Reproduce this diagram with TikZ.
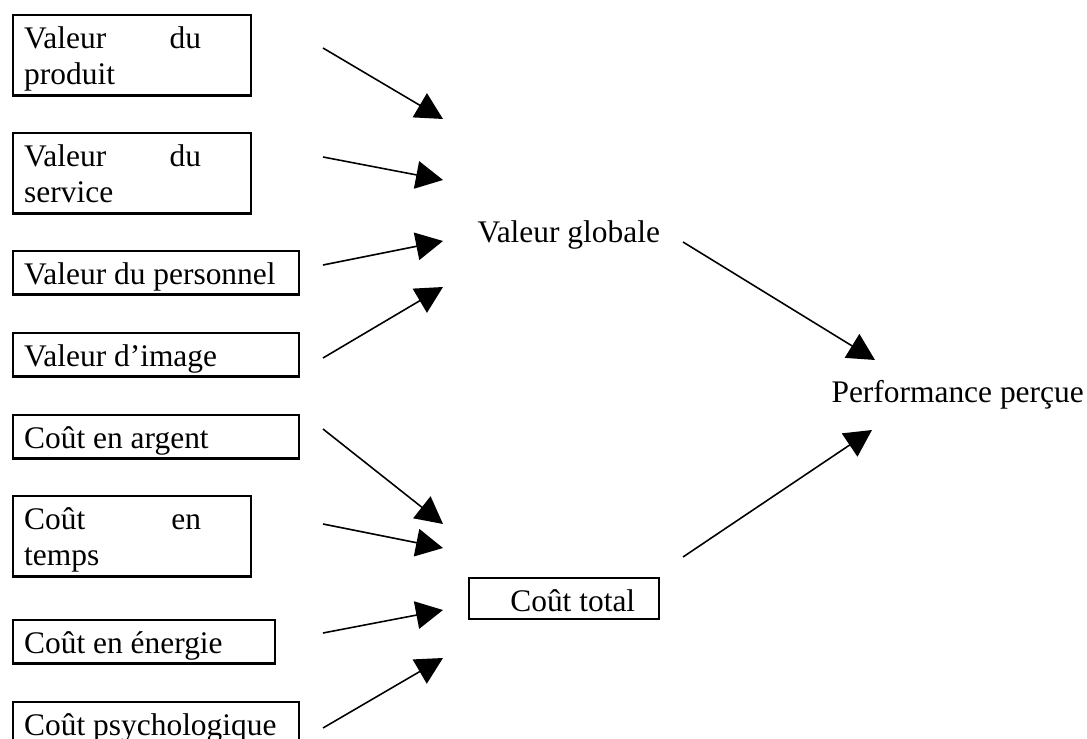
\documentclass[tikz,border=0pt]{standalone}
\usepackage{fontspec}
\setmainfont{Liberation Serif}
\usetikzlibrary{arrows.meta}

\newcommand{\spreadline}[2]{\makebox[67.5pt][l]{#1\hfill#2}}

\tikzset{
  item/.style={draw, line width=.9pt, anchor=north west, align=justify,
    inner xsep=4.2pt, inner ysep=0pt, text height=12.6pt, text depth=4pt},
  tallitem/.style={item, text depth=18.1pt},
  freetext/.style={inner sep=0pt, anchor=base west},
  flow/.style={line width=.6pt, -{Triangle[length=10.3pt,width=10.6pt]}}
}

\begin{document}
\begin{tikzpicture}[x=0.3817pt, y=-0.3817pt,
  every node/.style={font=\fontsize{12}{13.8}\selectfont}]
\useasboundingbox (0,0) rectangle (1087,739);
\clip (0,0) rectangle (1087,739);

% value side
\node [tallitem, text width=82.4pt] (vprod) at (12,14) {\spreadline{Valeur}{du}\\produit};
\node [tallitem, text width=82.4pt] (vserv) at (12,132) {\spreadline{Valeur}{du}\\service};
\node [item, text width=100.8pt] (vpers) at (12,250) {Valeur du personnel};
\node [item, text width=100.8pt] (vimg) at (12,332) {Valeur d’image};

% cost side
\node [item, text width=100.8pt] (carg) at (12,414) {Coût en argent};
\node [tallitem, text width=82.4pt] (ctemps) at (12,495) {\spreadline{Coût}{en}\\temps};
\node [item, text width=91.6pt] (cener) at (12,619) {Coût en énergie};
\node [item, text width=100.8pt] (cpsy) at (12,701) {Coût psychologique};

\node [freetext] (vglob) at (477,243) {Valeur globale};
\node [item, text width=64.1pt, text depth=3pt] (ctot) at (468,577) {\hspace*{11.5pt}Coût total};
\node [freetext] (perf) at (831,403) {Performance perçue};

\coordinate (s1) at (323,48);   \coordinate (t1) at (443,119);
\coordinate (s2) at (323,157);  \coordinate (t2) at (443,180);
\coordinate (s3) at (323,265);  \coordinate (t3) at (443,241);
\coordinate (s4) at (323,358);  \coordinate (t4) at (443,287);
\coordinate (s5) at (323,429);  \coordinate (t5) at (443,524);
\coordinate (s6) at (323,524);  \coordinate (t6) at (443,548);
\coordinate (s7) at (323,633);  \coordinate (t7) at (443,610);
\coordinate (s8) at (323,728);  \coordinate (t8) at (443,658);
\coordinate (s9) at (683,242);  \coordinate (t9) at (875,360);
\coordinate (s10) at (683,557); \coordinate (t10) at (872,430);

\draw [flow] (s1) -- (t1);
\draw [flow] (s2) -- (t2);
\draw [flow] (s3) -- (t3);
\draw [flow] (s4) -- (t4);
\draw [flow] (s5) -- (t5);
\draw [flow] (s6) -- (t6);
\draw [flow] (s7) -- (t7);
\draw [flow] (s8) -- (t8);
\draw [flow] (s9) -- (t9);
\draw [flow] (s10) -- (t10);
\end{tikzpicture}
\end{document}
